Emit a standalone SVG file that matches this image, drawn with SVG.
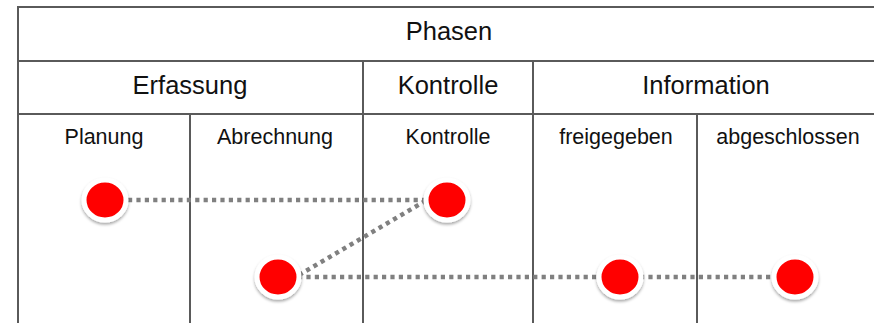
<svg xmlns="http://www.w3.org/2000/svg" width="874" height="323" viewBox="0 0 874 323">
  <defs>
    <style>
      .grid line { stroke: #5a5a5a; stroke-width: 2; }
      .h { font-family: "Liberation Sans", Arial, sans-serif; font-size: 25.5px; fill: #111; text-anchor: middle; }
      .s { font-family: "Liberation Sans", Arial, sans-serif; font-size: 21.5px; fill: #111; text-anchor: middle; }
      .con { stroke: #808080; stroke-width: 4.5; stroke-dasharray: 4.2 4.2; fill: none; }
      .dot { fill: #ff0000; stroke: #ffffff; stroke-width: 5; filter: url(#sh); }
    </style>
    <filter id="sh" x="-50%" y="-50%" width="200%" height="200%">
      <feDropShadow dx="0" dy="2" stdDeviation="1.8" flood-color="#000" flood-opacity="0.35"/>
    </filter>
  </defs>
  <rect width="874" height="323" fill="#ffffff"/>
  <g id="table" class="grid">
    <line x1="18" y1="7" x2="874" y2="7"/>
    <line x1="18" y1="61" x2="874" y2="61"/>
    <line x1="18" y1="114" x2="874" y2="114"/>
    <line x1="18" y1="6" x2="18" y2="323"/>
    <line x1="190" y1="114" x2="190" y2="323"/>
    <line x1="363" y1="61" x2="363" y2="323"/>
    <line x1="533" y1="61" x2="533" y2="323"/>
    <line x1="697" y1="114" x2="697" y2="323"/>
  </g>
  <g id="labels">
    <text class="h" x="449" y="39.5">Phasen</text>
    <text class="h" x="190" y="93.5">Erfassung</text>
    <text class="h" x="448" y="93.5">Kontrolle</text>
    <text class="h" x="706" y="93.5">Information</text>
    <text class="s" x="104" y="144">Planung</text>
    <text class="s" x="275" y="144">Abrechnung</text>
    <text class="s" x="448" y="144">Kontrolle</text>
    <text class="s" x="616" y="144">freigegeben</text>
    <text class="s" x="788" y="144">abgeschlossen</text>
  </g>
  <g id="connectors">
    <line class="con" x1="128" y1="200" x2="428" y2="200"/>
    <line class="con" x1="299" y1="275" x2="432" y2="197"/>
    <line class="con" x1="298" y1="277" x2="601" y2="277"/>
    <line class="con" x1="640" y1="277" x2="777" y2="277"/>
  </g>
  <g id="node-planung"><ellipse class="dot" cx="105" cy="200" rx="21" ry="20"/></g>
  <g id="node-kontrolle"><ellipse class="dot" cx="447" cy="200" rx="21" ry="20"/></g>
  <g id="node-abrechnung"><ellipse class="dot" cx="278" cy="277" rx="21" ry="20"/></g>
  <g id="node-freigegeben"><ellipse class="dot" cx="620" cy="277" rx="21" ry="20"/></g>
  <g id="node-abgeschlossen"><ellipse class="dot" cx="795" cy="277" rx="21" ry="20"/></g>
</svg>
